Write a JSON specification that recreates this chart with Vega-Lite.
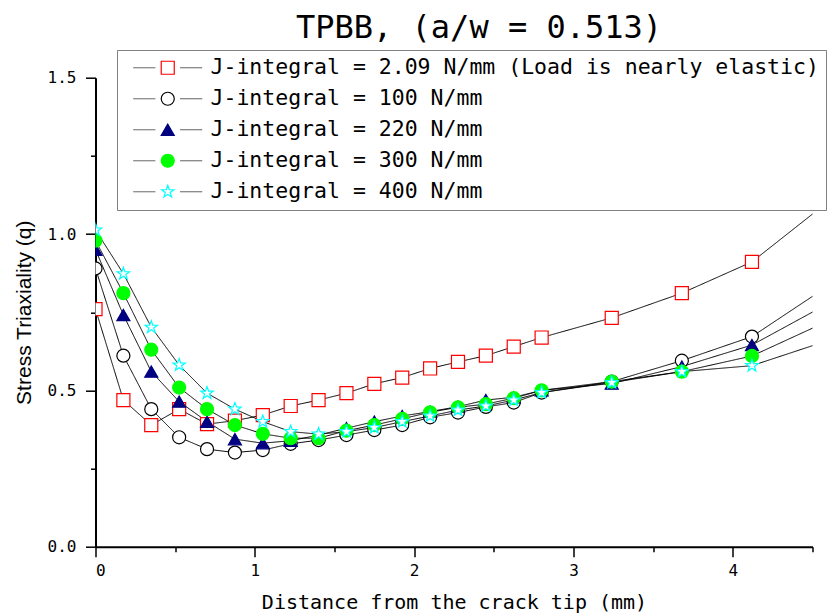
{
  "$schema": "https://vega.github.io/schema/vega-lite/v6.json",
  "width": 717,
  "height": 469,
  "autosize": {"type": "none"},
  "padding": {"left": 95.5, "top": 77.7, "right": 18.5, "bottom": 67.3},
  "background": "white",
  "config": {
    "view": {"stroke": null},
    "axis": {"grid": false, "domainColor": "black", "domainWidth": 2, "tickColor": "black", "tickWidth": 1.5, "tickSize": 10, "labelColor": "black", "titleColor": "black", "labelFont": "DejaVu Sans Mono", "labelFontSize": 16, "titleFontWeight": "normal", "zindex": 1}
  },
  "title": {"text": "TPBB, (a/w = 0.513)", "font": "DejaVu Sans Mono", "fontSize": 32, "fontWeight": "normal", "color": "black", "anchor": "middle", "frame": "group", "baseline": "alphabetic", "offset": -21, "dx": 25},
  "data": {"values": [
    {"J":"2.09","d":0,"q":0.76},{"J":"2.09","d":0.175,"q":0.469},{"J":"2.09","d":0.35,"q":0.389},{"J":"2.09","d":0.525,"q":0.44},{"J":"2.09","d":0.7,"q":0.392},{"J":"2.09","d":0.875,"q":0.403},{"J":"2.09","d":1.05,"q":0.421},{"J":"2.09","d":1.225,"q":0.45},{"J":"2.09","d":1.4,"q":0.469},{"J":"2.09","d":1.575,"q":0.491},{"J":"2.09","d":1.75,"q":0.521},{"J":"2.09","d":1.925,"q":0.541},{"J":"2.09","d":2.1,"q":0.57},{"J":"2.09","d":2.275,"q":0.591},{"J":"2.09","d":2.45,"q":0.611},{"J":"2.09","d":2.625,"q":0.64},{"J":"2.09","d":2.8,"q":0.669},{"J":"2.09","d":3.24,"q":0.732},{"J":"2.09","d":3.68,"q":0.811},{"J":"2.09","d":4.12,"q":0.911},{"J":"2.09","d":4.56,"q":1.088},
    {"J":"100","d":0,"q":0.89},{"J":"100","d":0.175,"q":0.611},{"J":"100","d":0.35,"q":0.44},{"J":"100","d":0.525,"q":0.35},{"J":"100","d":0.7,"q":0.312},{"J":"100","d":0.875,"q":0.301},{"J":"100","d":1.05,"q":0.309},{"J":"100","d":1.225,"q":0.329},{"J":"100","d":1.4,"q":0.341},{"J":"100","d":1.575,"q":0.357},{"J":"100","d":1.75,"q":0.373},{"J":"100","d":1.925,"q":0.389},{"J":"100","d":2.1,"q":0.414},{"J":"100","d":2.275,"q":0.429},{"J":"100","d":2.45,"q":0.447},{"J":"100","d":2.625,"q":0.461},{"J":"100","d":2.8,"q":0.493},{"J":"100","d":3.24,"q":0.528},{"J":"100","d":3.68,"q":0.595},{"J":"100","d":4.12,"q":0.672},{"J":"100","d":4.56,"q":0.821},
    {"J":"220","d":0,"q":0.95},{"J":"220","d":0.175,"q":0.741},{"J":"220","d":0.35,"q":0.56},{"J":"220","d":0.525,"q":0.464},{"J":"220","d":0.7,"q":0.4},{"J":"220","d":0.875,"q":0.344},{"J":"220","d":1.05,"q":0.331},{"J":"220","d":1.225,"q":0.339},{"J":"220","d":1.4,"q":0.357},{"J":"220","d":1.575,"q":0.379},{"J":"220","d":1.75,"q":0.4},{"J":"220","d":1.925,"q":0.418},{"J":"220","d":2.1,"q":0.432},{"J":"220","d":2.275,"q":0.448},{"J":"220","d":2.45,"q":0.469},{"J":"220","d":2.625,"q":0.478},{"J":"220","d":2.8,"q":0.5},{"J":"220","d":3.24,"q":0.522},{"J":"220","d":3.68,"q":0.576},{"J":"220","d":4.12,"q":0.645},{"J":"220","d":4.56,"q":0.767},
    {"J":"300","d":0,"q":0.979},{"J":"300","d":0.175,"q":0.811},{"J":"300","d":0.35,"q":0.63},{"J":"300","d":0.525,"q":0.509},{"J":"300","d":0.7,"q":0.44},{"J":"300","d":0.875,"q":0.389},{"J":"300","d":1.05,"q":0.361},{"J":"300","d":1.225,"q":0.347},{"J":"300","d":1.4,"q":0.347},{"J":"300","d":1.575,"q":0.371},{"J":"300","d":1.75,"q":0.389},{"J":"300","d":1.925,"q":0.409},{"J":"300","d":2.1,"q":0.43},{"J":"300","d":2.275,"q":0.446},{"J":"300","d":2.45,"q":0.456},{"J":"300","d":2.625,"q":0.475},{"J":"300","d":2.8,"q":0.5},{"J":"300","d":3.24,"q":0.528},{"J":"300","d":3.68,"q":0.56},{"J":"300","d":4.12,"q":0.61},{"J":"300","d":4.56,"q":0.713},
    {"J":"400","d":0,"q":1.013},{"J":"400","d":0.175,"q":0.873},{"J":"400","d":0.35,"q":0.702},{"J":"400","d":0.525,"q":0.581},{"J":"400","d":0.7,"q":0.491},{"J":"400","d":0.875,"q":0.44},{"J":"400","d":1.05,"q":0.4},{"J":"400","d":1.225,"q":0.368},{"J":"400","d":1.4,"q":0.36},{"J":"400","d":1.575,"q":0.368},{"J":"400","d":1.75,"q":0.381},{"J":"400","d":1.925,"q":0.4},{"J":"400","d":2.1,"q":0.418},{"J":"400","d":2.275,"q":0.437},{"J":"400","d":2.45,"q":0.45},{"J":"400","d":2.625,"q":0.469},{"J":"400","d":2.8,"q":0.493},{"J":"400","d":3.24,"q":0.525},{"J":"400","d":3.68,"q":0.56},{"J":"400","d":4.12,"q":0.579},{"J":"400","d":4.56,"q":0.653}
  ]},
  "encoding": {
    "x": {"field": "d", "type": "quantitative", "scale": {"domain": [0, 4.5], "nice": false, "zero": false},
      "axis": {"values": [0,0.5,1,1.5,2,2.5,3,3.5,4,4.5], "labelExpr": "datum.value % 1 === 0 ? format(datum.value, 'd') : ''",
        "tickDash": {"condition": {"test": "datum.value % 1 === 0", "value": [10, 0]}, "value": [5, 20]},
        "labelPadding": 6, "title": "Distance from the crack tip (mm)", "titleFont": "DejaVu Sans Mono", "titleFontSize": 20, "titlePadding": 14}},
    "y": {"field": "q", "type": "quantitative", "scale": {"domain": [0, 1.5], "nice": false},
      "axis": {"values": [0,0.25,0.5,0.75,1,1.25,1.5], "labelExpr": "datum.value * 2 % 1 === 0 ? format(datum.value, '.1f') : ''",
        "tickDash": {"condition": {"test": "datum.value * 2 % 1 === 0", "value": [10, 0]}, "value": [5, 20]},
        "labelPadding": 9.5, "title": "Stress Triaxiality (q)", "titleFont": "Liberation Sans", "titleFontSize": 21, "titlePadding": 13}}
  },
  "layer": [
    {"mark": {"type": "line", "color": "black", "strokeWidth": 1, "clip": true},
     "encoding": {"strokeDash": {"field": "J", "type": "nominal",
        "scale": {"domain": ["400","300","220","100","2.09"], "range": [[1,0],[1,0],[1,0],[1,0],[1,0]]},
        "legend": {"orient": "none", "legendX": 21.5, "legendY": -27.7, "title": null, "values": ["2.09","100","220","300","400"],
          "labelExpr": "datum.label == '2.09' ? 'J-integral = 2.09 N/mm (Load is nearly elastic)' : 'J-integral = ' + datum.label + ' N/mm'",
          "symbolType": "M-5,0H-1.8M1.8,0H5", "symbolSize": 190, "symbolStrokeColor": "#555555", "symbolStrokeWidth": 1,
          "symbolOffset": 33, "labelOffset": 32, "labelFont": "DejaVu Sans Mono", "labelFontSize": 21.5, "labelColor": "black", "labelLimit": 1000,
          "padding": 7, "rowPadding": 8, "strokeColor": "#808080", "zindex": 0}}}},
    {"mark": {"type": "point", "filled": true, "size": 170, "strokeWidth": 1.2, "opacity": 1, "clip": true},
     "encoding": {
       "shape": {"field": "J", "type": "nominal",
         "scale": {"domain": ["2.09","100","220","300","400"], "range": ["square","circle","triangle-up","circle","M0,-1L0.235,-0.324L0.951,-0.309L0.38,0.124L0.588,0.809L0,0.4L-0.588,0.809L-0.38,0.124L-0.951,-0.309L-0.235,-0.324Z"]},
         "legend": {"orient": "none", "legendX": 21.5, "legendY": -27.7, "title": null, "symbolSize": 170, "symbolStrokeWidth": 1.2,
           "symbolOffset": 33, "labelExpr": "''", "labelFontSize": 21.5, "padding": 7, "rowPadding": 8, "gridAlign": "all", "zindex": 1}},
       "fill": {"field": "J", "type": "nominal",
         "scale": {"domain": ["2.09","100","220","300","400"], "range": ["#ffffff","#ffffff","#000080","#00ff00","#ffffff"]}},
       "stroke": {"field": "J", "type": "nominal",
         "scale": {"domain": ["2.09","100","220","300","400"], "range": ["#ff0000","#000000","#000080","#00ff00","#00ffff"]}}
     }}
  ]
}
